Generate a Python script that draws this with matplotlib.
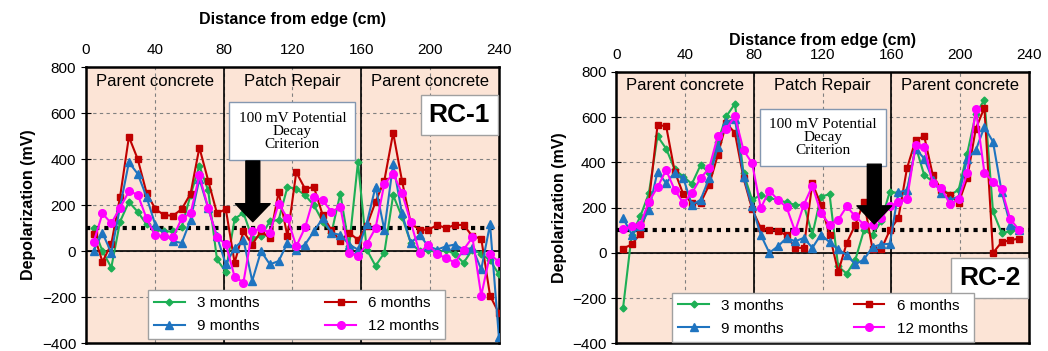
import numpy as np
import matplotlib
matplotlib.use("Agg")
import matplotlib.pyplot as plt

plt.rcParams['font.family'] = ['Liberation Sans', 'DejaVu Sans']

# distance from edge (cm)
dist_rc1 = np.linspace(4.5, 240, 47)
dist_rc2 = np.arange(4, 239, 5)

# RC-1 depolarization (mV)
rc1_3m = [100, 0, -71, 129, 214, 171, 117, 93, 86, 86, 107, 243, 371, 264, -36, -89,
          140, 167, 57, 64, 130, 136, 279, 271, 243, 200, 129, 80, 250, 21, 386,
          7, -64, -7, 243, 150, 36, 0, 7, -7, 7, -14, -50, 7, -10, -40, -100]
rc1_6m = [74, -46, 31, 237, 497, 400, 254, 183, 157, 154, 183, 250, 450, 307, 164, 183,
          -50, 86, 29, 86, 57, 257, 64, 343, 271, 279, 157, 90, 46, 80, 50,
          110, 214, 307, 514, 307, 121, 93, 93, 114, 100, 114, 114, 65, 55, -193, -269]
rc1_9m = [3, 79, -7, 193, 386, 336, 236, 114, 79, 43, 36, 136, 314, 186, 64, -57,
          14, 50, -129, 0, -57, -43, 36, 7, 29, 86, 143, 79, 71, 29, 7,
          120, 280, 93, 379, 164, 36, 71, 21, 7, 21, 29, 7, 14, -79, 117, -371]
rc1_12m = [40, 164, 121, 189, 260, 246, 143, 69, 64, 60, 143, 164, 329, 189, 60, 31,
           -111, -136, 86, 100, 79, 207, 143, 21, 103, 236, 221, 171, 193, -7, -21,
           31, 100, 293, 336, 254, 126, -7, 29, -14, -29, -50, 7, 60, -193, -14, -46]

# RC-2 depolarization (mV)
rc2_3m = [-242, 81, 161, 264, 516, 461, 369, 337, 305, 388, 355, 491, 604, 659, 352, 234,
          256, 242, 234, 223, 212, 212, 81, 249, 259, -60, -92, -30, 100, 80, 140,
          271, 264, 264, 472, 344, 315, 286, 256, 278, 439, 615, 677, 183, 88, 95, 103]
rc2_6m = [19, 37, 85, 227, 564, 561, 359, 259, 220, 220, 300, 432, 574, 530, 330, 193,
          110, 100, 98, 77, 22, 22, 308, 212, 81, -85, 44, 125, 227, 15, 15,
          100, 154, 374, 498, 516, 344, 278, 256, 220, 330, 549, 642, 0, 47, 56, 63]
rc2_9m = [154, 81, 117, 190, 359, 308, 355, 330, 212, 234, 330, 469, 579, 593, 337, 205,
          80, 0, 29, 66, 51, 66, 22, 81, 47, 15, -10, -51, -29, 26, 37,
          40, 267, 278, 461, 417, 322, 264, 234, 249, 417, 454, 557, 491, 271, 125, 103]
rc2_12m = [105, 117, 125, 227, 290, 366, 278, 220, 264, 330, 374, 516, 549, 604, 454, 396,
           198, 275, 234, 202, 95, 212, 296, 176, 125, 146, 205, 161, 125, 125, 154,
           205, 223, 237, 476, 469, 308, 286, 215, 237, 352, 637, 355, 315, 281, 149, 103]

series_names = ['3 months', '6 months', '9 months', '12 months']
colors = ['#1DAF55', '#C00000', '#1F74C0', '#FF00FF']
markers = ['D', 's', '^', 'o']
msizes = [3.5, 5, 5.5, 5.5]

regions = ['Parent concrete', 'Patch Repair', 'Parent concrete']
region_x = [40, 120, 200]
criterion = 100


def draw_panel(ax, dist, data, tag, tag_y, box_y, arrow_x, legend_box):
    ax.set_facecolor('#FCE4D6')
    ax.set_xlim(0, 240)
    ax.set_ylim(-400, 800)
    ax.set_xticks(range(0, 241, 40))
    ax.set_yticks(range(-400, 801, 200))
    ax.grid(True, ls=(0, (3, 3)), color='#808080', lw=0.8)
    ax.set_axisbelow(True)
    for xv in (80, 160):
        ax.axvline(xv, color='black', lw=1.2, zorder=1.5)
    ax.axhline(0, color='black', lw=1.2, zorder=1.5)
    ax.axhline(criterion, color='black', lw=3, ls=(0, (1, 1.2)), zorder=1.6)

    lines = []
    for vals, c, m, ms, name in zip(data, colors, markers, msizes, series_names):
        ln, = ax.plot(dist, vals, color=c, marker=m, ms=ms, lw=1.5, label=name, zorder=3)
        lines.append(ln)

    for lab, xv in zip(regions, region_x):
        ax.text(xv, 738, lab, ha='center', va='center', fontsize=12)

    ax.text(120, box_y, '100 mV Potential\nDecay\nCriterion', ha='center', va='center',
            fontsize=11, family='Liberation Serif', linespacing=1.0, zorder=5,
            bbox=dict(boxstyle='square,pad=0.6', fc='white', ec='#8497B0', lw=1))
    ax.annotate('', xy=(arrow_x, 128), xytext=(arrow_x, 392), zorder=6,
                arrowprops=dict(facecolor='black', edgecolor='black', width=10,
                                headwidth=25, headlength=13, shrink=0))
    ax.text(217, tag_y, tag, ha='center', va='center', fontsize=19, fontweight='bold',
            zorder=5, bbox=dict(boxstyle='square,pad=0.3', fc='white', ec='#A0A0A0', lw=1))

    order = [0, 2, 1, 3]
    ax.legend([lines[i] for i in order], [series_names[i] for i in order], ncol=2,
              loc='lower left', bbox_to_anchor=legend_box, mode='expand', fontsize=11,
              fancybox=False, edgecolor='#A0A0A0', framealpha=1, handlelength=2.0,
              borderaxespad=0, columnspacing=1.0, labelspacing=0.6)

    for s in ax.spines.values():
        s.set_linewidth(1.8)
    ax.tick_params(axis='x', top=False, bottom=False, labeltop=True, labelbottom=False,
                   labelsize=11)
    ax.tick_params(axis='y', direction='inout', length=7, labelsize=11)
    ax.xaxis.set_label_position('top')
    ax.set_ylabel('Depolarization (mV)', fontsize=11.5, fontweight='bold')


fig = plt.figure(figsize=(10.48, 3.51), dpi=100)
ax1 = fig.add_axes([0.082, 0.022, 0.394, 0.787])
ax2 = fig.add_axes([0.588, 0.022, 0.394, 0.773])

draw_panel(ax1, dist_rc1, [rc1_3m, rc1_6m, rc1_9m, rc1_12m], 'RC-1', 592, 522, 97,
           (0.15, 0.015, 0.72, 0.175))
draw_panel(ax2, dist_rc2, [rc2_3m, rc2_6m, rc2_9m, rc2_12m], 'RC-2', -110, 510, 150,
           (0.136, 0.005, 0.73, 0.19))

ax1.set_xlabel('Distance from edge (cm)', fontsize=11.5, fontweight='bold', labelpad=14)
ax2.set_xlabel('Distance from edge (cm)', fontsize=11.5, fontweight='bold', labelpad=2)

fig.savefig('out.png', dpi=100)
